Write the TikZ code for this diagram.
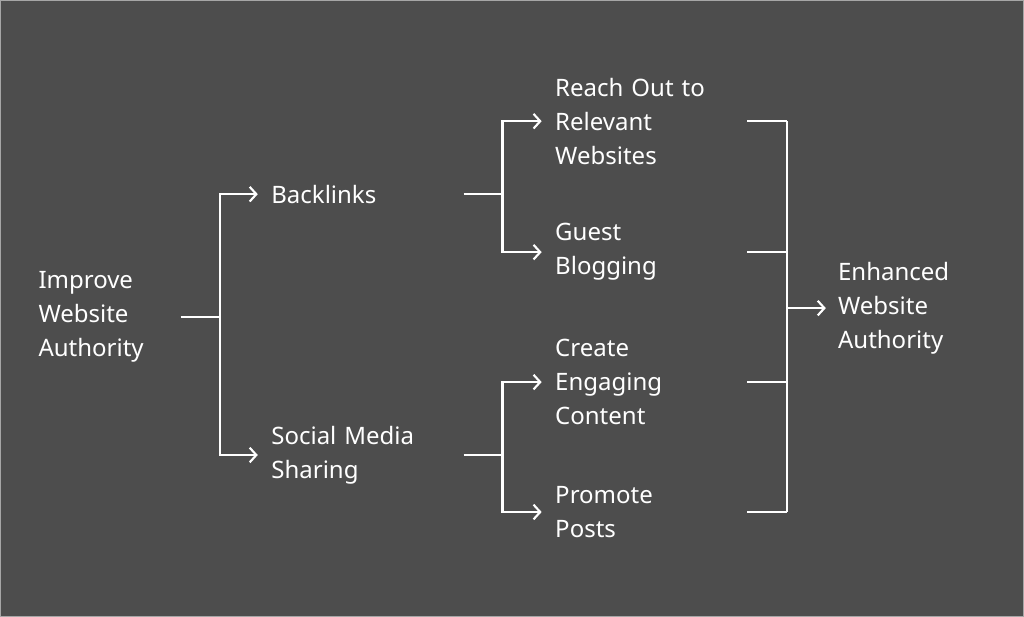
\documentclass[tikz,border=0pt]{standalone}
\usepackage{fontspec}
\setmainfont{Noto Sans}
\usetikzlibrary{arrows.meta}
\definecolor{bgdark}{HTML}{4D4D4D}
\tikzset{
  lbl/.style={anchor=west,inner sep=0pt,text=white,align=left,
    font=\fontsize{18}{25.5}\selectfont},
  conn/.style={draw=white,line width=1.6pt},
  arr/.style={conn,-{Straight Barb[length=5pt,width=11pt]}}
}
\begin{document}
\begin{tikzpicture}[x=0.75pt,y=0.75pt]
  \draw[fill=bgdark,draw=gray!70] (0,0) rectangle (1024,-616);
  \node[lbl,text width=106.5pt] (imp) at (38,-317) {Improve\\Website\\Authority};
  \node[lbl,text width=144pt] (back) at (271,-194) {Backlinks};
  \node[lbl,text width=144pt] (soc) at (271,-455) {Social Media\\Sharing};
  \node[lbl,text width=144pt] (reach) at (555,-121) {Reach Out to\\Relevant\\Websites};
  \node[lbl,text width=144pt] (guest) at (555,-252) {Guest\\Blogging};
  \node[lbl,text width=144pt] (create) at (555,-382) {Create\\Engaging\\Content};
  \node[lbl,text width=144pt] (prom) at (555,-512) {Promote\\Posts};
  \node[lbl] (enh) at (838,-308) {Enhanced\\Website\\Authority};
  % branches
  \draw[conn] (imp.east) -- ++(39,0) coordinate (s1);
  \draw[arr] (s1) |- ([xshift=-10pt]back.west);
  \draw[arr] (s1) |- ([xshift=-10pt]soc.west);
  \draw[conn] (back.east) -- ++(39,0) coordinate (s2);
  \draw[arr] (s2) |- ([xshift=-10pt]reach.west);
  \draw[arr] (s2) |- ([xshift=-10pt]guest.west);
  \draw[conn] (soc.east) -- ++(39,0) coordinate (s3);
  \draw[arr] (s3) |- ([xshift=-10pt]create.west);
  \draw[arr] (s3) |- ([xshift=-10pt]prom.west);
  % merge
  \draw[conn] (reach.east) -- ++(40,0) coordinate (m1);
  \draw[conn] (guest.east) -- ++(40,0);
  \draw[conn] (create.east) -- ++(40,0);
  \draw[conn] (prom.east) -- ++(40,0) coordinate (m4);
  \draw[conn] (m1) -- (m4);
  \draw[arr] (m1 |- enh.west) -- ([xshift=-9pt]enh.west);
\end{tikzpicture}
\end{document}
